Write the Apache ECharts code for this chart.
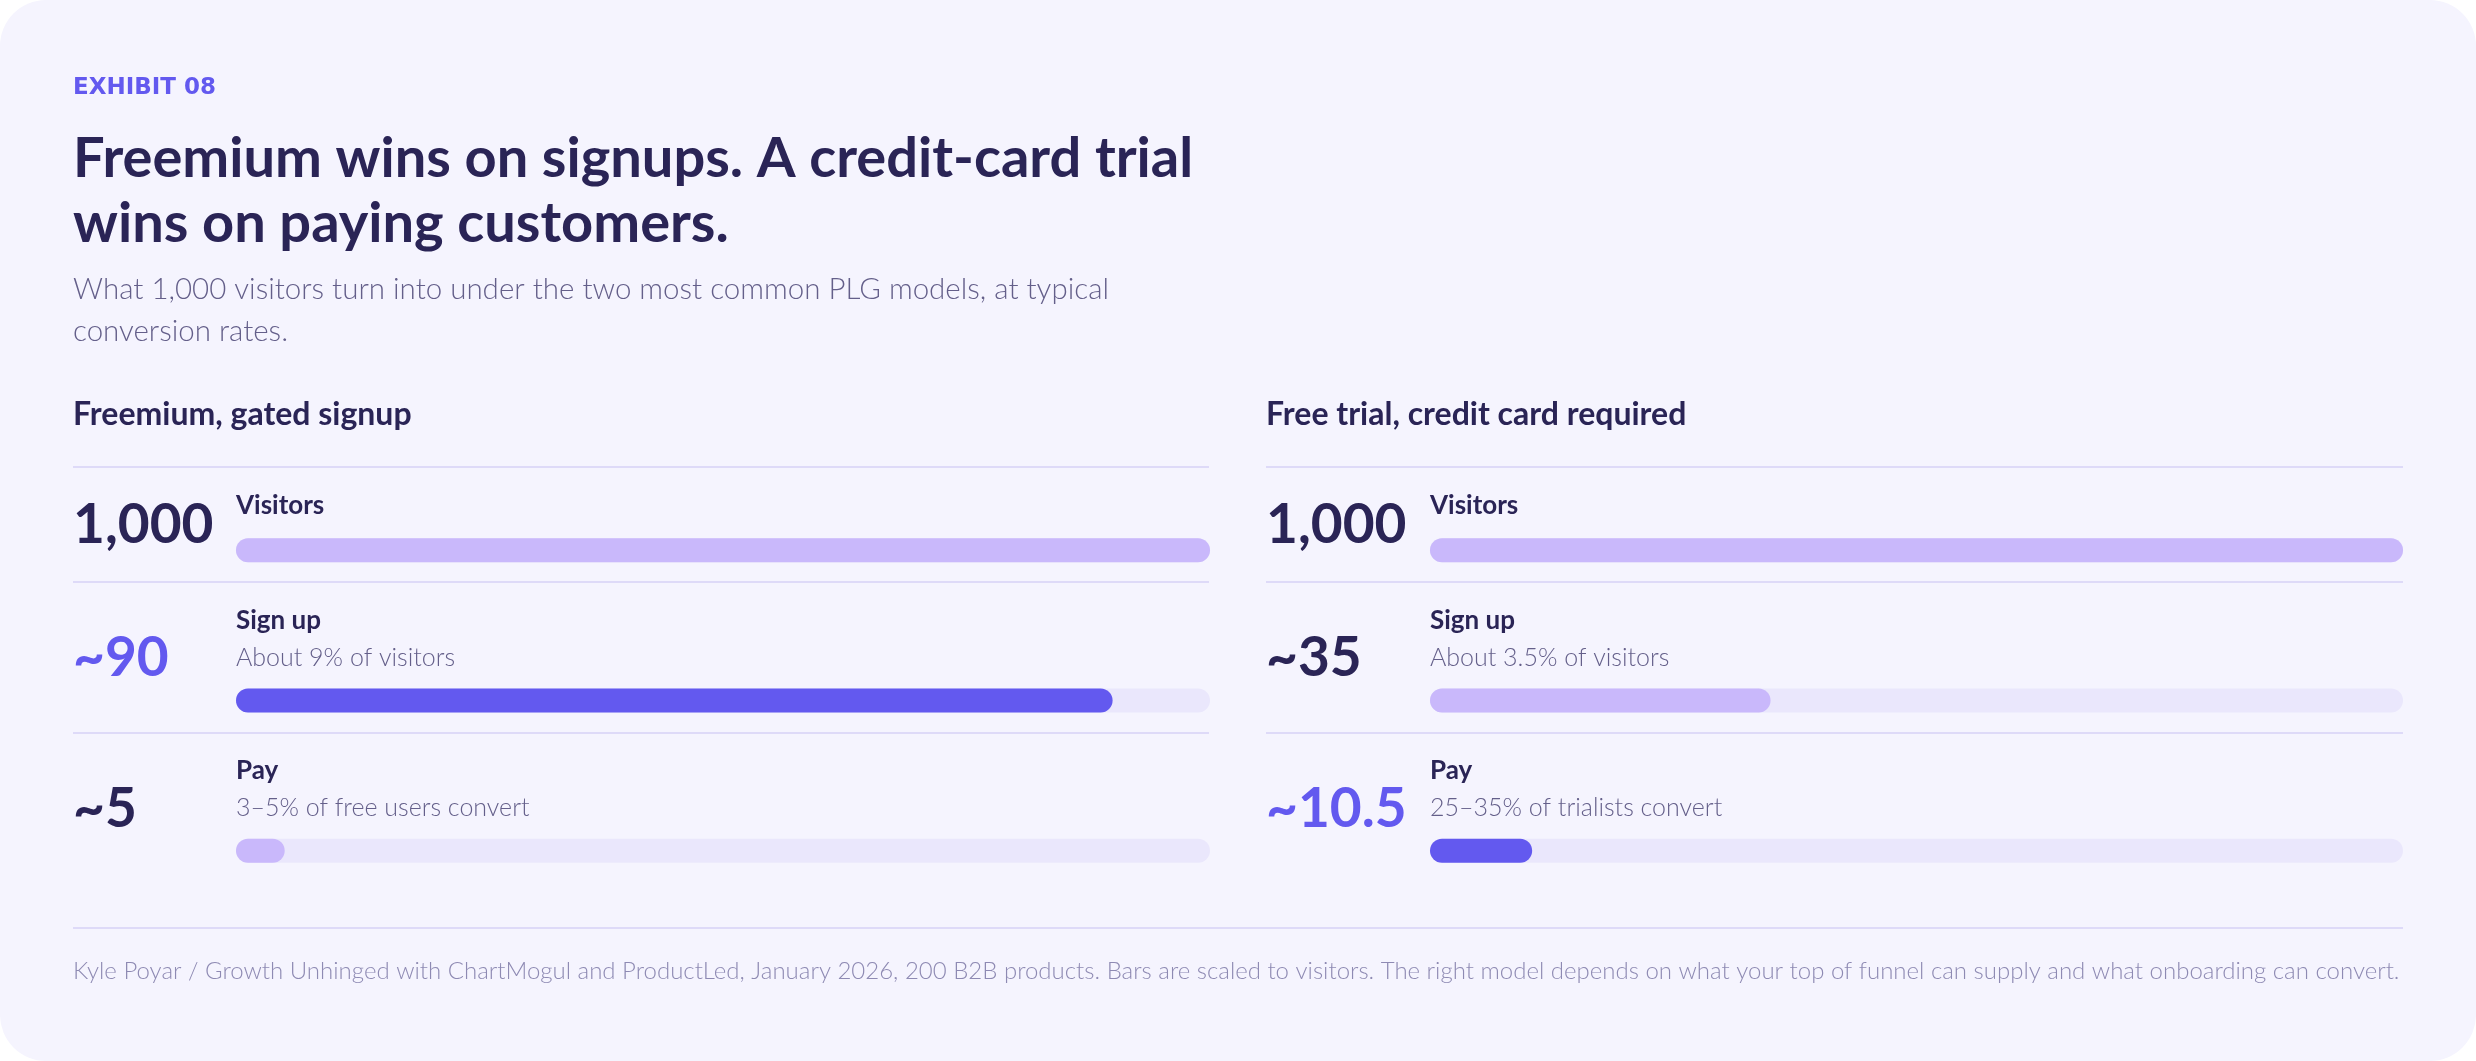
<!DOCTYPE html>
<html>
<head>
<meta charset="utf-8">
<script src="https://cdn.jsdelivr.net/npm/echarts@6/dist/echarts.min.js"></script>
<style>
  html, body { margin: 0; padding: 0; background: #ffffff; }
  #chart { width: 2476px; height: 1061px; background: #F5F4FE; border-radius: 46px; overflow: hidden; }
</style>
</head>
<body>
<div id="chart"></div>
<script>
// funnel data: what 1,000 visitors turn into under two PLG models
const stages = ['Visitors', 'Sign up', 'Pay'];

const freemiumCounts = [1000, 90, 5];
const freemiumLabels = ['1,000', '~90', '~5'];
const freemiumNotes = ['', 'About 9% of visitors', '3–5% of free users convert'];
const freemiumHot = 1;

const trialCounts = [1000, 35, 10.5];
const trialLabels = ['1,000', '~35', '~10.5'];
const trialNotes = ['', 'About 3.5% of visitors', '25–35% of trialists convert'];
const trialHot = 2;

const barScaleMax = 100;

const INK = '#2A2456';
const MUTED = '#645F8A';
const ACCENT = '#6359EF';
const SOFT = '#C9B8FB';
const TRACK = '#EAE7FC';
const RULE = '#DEDAF8';
const FONT = 'Lato, "Noto Sans", sans-serif';

const chart = echarts.init(document.getElementById('chart'), null, { renderer: 'canvas' });

const panels = [
  { left: 236, right: 2476 - 1210, textX: 73, counts: freemiumCounts, labels: freemiumLabels, notes: freemiumNotes, hot: freemiumHot },
  { left: 1430, right: 2476 - 2403, textX: 1266, counts: trialCounts, labels: trialLabels, notes: trialNotes, hot: trialHot },
];

const numStyle = (color, bottomPad) => ({
  fontFamily: FONT, fontWeight: 'bold', fontSize: 55, color, padding: [0, 0, bottomPad, 0],
});

const grid = [], xAxis = [], yAxis = [], series = [];
panels.forEach((p, gi) => {
  grid.push({ left: p.left, right: p.right, top: 475, height: 451 });
  xAxis.push({ gridIndex: gi, type: 'value', min: 0, max: barScaleMax, show: false });
  yAxis.push({
    gridIndex: gi,
    type: 'category',
    inverse: true,
    data: stages,
    axisLine: { show: false },
    axisTick: { show: false },
    splitLine: { show: false },
    axisLabel: {
      margin: p.left - p.textX,
      align: 'left',
      formatter: (v, i) => {
        const key = i === p.hot ? 'hot' : 'num';
        return i === 0 ? `{${key}Top|${p.labels[i]}}` : `{${key}|${p.labels[i]}}`;
      },
      rich: {
        num: numStyle(INK, 84),
        hot: numStyle(ACCENT, 84),
        numTop: numStyle(INK, 50),
        hotTop: numStyle(ACCENT, 50),
      },
    },
  });
  // track behind each bar, also carries the stage name and note
  series.push({
    type: 'bar',
    xAxisIndex: gi,
    yAxisIndex: gi,
    barWidth: 24,
    barGap: '-100%',
    silent: true,
    itemStyle: { color: TRACK, borderRadius: 12 },
    data: stages.map(() => barScaleMax),
    label: {
      show: true,
      position: [0, -16],
      align: 'left',
      verticalAlign: 'bottom',
      formatter: (d) => p.notes[d.dataIndex]
        ? `{name|${stages[d.dataIndex]}}\n{desc|${p.notes[d.dataIndex]}}`
        : `{nameOnly|${stages[d.dataIndex]}}`,
      rich: {
        name: { fontFamily: FONT, fontWeight: 'bold', fontSize: 26, color: INK, lineHeight: 44 },
        nameOnly: { fontFamily: FONT, fontWeight: 'bold', fontSize: 26, color: INK, lineHeight: 34 },
        desc: { fontFamily: FONT, fontWeight: 300, fontSize: 25, color: MUTED, lineHeight: 30 },
      },
    },
    z: 1,
  });
  series.push({
    type: 'bar',
    xAxisIndex: gi,
    yAxisIndex: gi,
    barWidth: 24,
    barGap: '-100%',
    data: p.counts.map((c, i) => ({
      value: Math.min(c, barScaleMax),
      itemStyle: { color: i === p.hot ? ACCENT : SOFT, borderRadius: 12 },
    })),
    z: 2,
  });
});

function rule(x1, x2, y) {
  return { type: 'line', shape: { x1, y1: y, x2, y2: y }, style: { stroke: RULE, lineWidth: 2 }, silent: true };
}

const graphic = [
  { type: 'text', x: 73, y: 88, style: { text: 'EXHIBIT 08', fill: ACCENT, font: 'bold 23px "DejaVu Sans", sans-serif', verticalAlign: 'middle' } },
  { type: 'text', x: 73, y: 126, style: { text: 'Freemium wins on signups. A credit-card trial\nwins on paying customers.', fill: INK, font: `bold 56px ${FONT}`, lineHeight: 65, verticalAlign: 'top' } },
  { type: 'text', x: 73, y: 268, style: { text: 'What 1,000 visitors turn into under the two most common PLG models, at typical\nconversion rates.', fill: MUTED, font: `300 29.5px ${FONT}`, lineHeight: 42, verticalAlign: 'top' } },
  { type: 'text', x: 73, y: 415, style: { text: 'Freemium, gated signup', fill: INK, font: `bold 32px ${FONT}`, verticalAlign: 'middle' } },
  { type: 'text', x: 1266, y: 415, style: { text: 'Free trial, credit card required', fill: INK, font: `bold 32px ${FONT}`, verticalAlign: 'middle' } },
  rule(73, 1209, 467), rule(73, 1209, 582), rule(73, 1209, 733),
  rule(1266, 2403, 467), rule(1266, 2403, 582), rule(1266, 2403, 733),
  rule(73, 2403, 928),
  { type: 'text', x: 73, y: 971, style: { text: 'Kyle Poyar / Growth Unhinged with ChartMogul and ProductLed, January 2026, 200 B2B products. Bars are scaled to visitors. The right model depends on what your top of funnel can supply and what onboarding can convert.', fill: '#8E8AB3', font: `300 24px ${FONT}`, verticalAlign: 'middle' } },
];

chart.setOption({
  backgroundColor: 'transparent',
  animation: false,
  grid,
  xAxis,
  yAxis,
  series,
  graphic,
});
window.addEventListener('resize', () => chart.resize());
</script>
</body>
</html>
